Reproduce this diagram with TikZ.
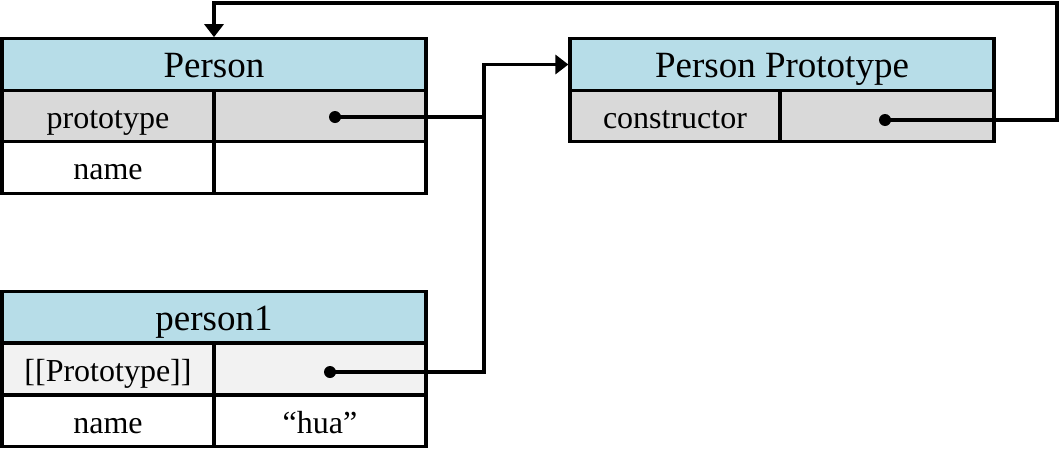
\documentclass[tikz,border=0pt]{standalone}
\usepackage{fontspec}
\setmainfont{Liberation Serif}
\usetikzlibrary{arrows.meta}
\definecolor{hdrblue}{HTML}{B7DDE8}
\definecolor{rowgray}{HTML}{D9D9D9}
\definecolor{rowlight}{HTML}{F2F2F2}
\newcommand{\hdrfont}{\fontsize{37}{40}\selectfont}
\newcommand{\rowfont}{\fontsize{32}{36}\selectfont}
\tikzset{
  cellbox/.style={draw=black, line width=3.2pt, inner sep=0pt, minimum height=51.5pt, font=\rowfont, text height=24pt, text depth=0pt},
  hdrbox/.style={cellbox, fill=hdrblue, font=\hdrfont, text height=26pt, text depth=0pt},
  graybox/.style={cellbox, fill=rowgray},
  lightbox/.style={cellbox, fill=rowlight},
  whitebox/.style={cellbox, fill=white},
  dotnode/.style={circle, fill=black, inner sep=0pt, minimum size=12pt},
  conn/.style={line width=3.2pt, draw=black},
  tip/.style={-{Triangle[length=13pt,width=19pt]}}
}
\begin{document}
\begin{tikzpicture}[x=1pt,y=-1pt]
\useasboundingbox (0,0) rectangle (1062,461);
% Person
\node[hdrbox, minimum width=424pt] (personhdr) at (214,64.5) {Person};
\node[graybox, minimum width=212pt] (pprotok) at (108,116) {prototype};
\node[graybox, minimum width=212pt] (pprotov) at (320,116) {};
\node[whitebox, minimum width=212pt] (pnamek) at (108,167.5) {name};
\node[whitebox, minimum width=212pt] (pnamev) at (320,167.5) {};
% Person Prototype
\node[hdrbox, minimum width=424pt] (protohdr) at (782,64.5) {Person Prototype};
\node[graybox, minimum width=210pt] (ctork) at (675,116) {constructor};
\node[graybox, minimum width=214pt] (ctorv) at (887,116) {};
% person1
\node[hdrbox, minimum width=424pt] (p1hdr) at (214,317) {person1};
\node[lightbox, minimum width=212pt] (p1protok) at (108,369) {[[Prototype]]};
\node[lightbox, minimum width=212pt] (p1protov) at (320,369) {};
\node[whitebox, minimum width=212pt] (p1namek) at (108,421) {name};
\node[whitebox, minimum width=212pt] (p1namev) at (320,421) {``hua''};
% dots
\node[dotnode] (d1) at (335,117) {};
\node[dotnode] (d2) at (330,372) {};
\node[dotnode] (d3) at (885,120) {};
% connectors
\coordinate (j) at (484,117);
\coordinate (c1) at (1057,3);
\draw[conn] (d1.center) -- (j);
\draw[conn, tip] (d2.center) -| (j) |- (protohdr.west);
\draw[conn, tip] (d3.center) -| (c1) -| (personhdr.north);
\end{tikzpicture}
\end{document}
